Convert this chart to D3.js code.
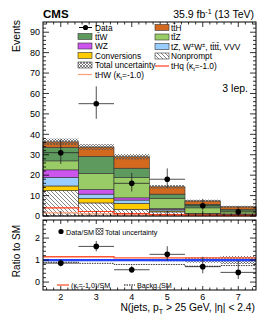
<!DOCTYPE html>
<html><head><meta charset="utf-8">
<script src="https://cdn.jsdelivr.net/npm/d3@7"></script>
<style>body{margin:0;background:#fff}svg{display:block;font-family:"Liberation Sans",Arial,sans-serif}</style>
</head><body><svg id="c" width="266" height="322"></svg>
<script>
// ---------- data ----------
const binCenters = [2, 3, 4, 5, 6, 7];
const nonprompt   = [12.4, 6.4, 3.3, 2.0, 0.8, 0.6];
const conversions = [2.3, 2.2, 2.9, 0.5, 0.2, 0.1];
const tzVVV       = [4.2, 2.1, 1.6, 0.7, 0.2, 0.2];
const wz          = [3.7, 2.3, 1.1, 0.4, 0.1, 0.1];
const ttz         = [4.4, 7.9, 9.9, 5.0, 2.7, 1.5];
const ttw         = [6.6, 8.3, 4.6, 2.1, 1.7, 0.8];
const tth         = [2.7, 4.6, 5.6, 3.6, 1.7, 1.2];
const totalUnc    = [1.6, 1.4, 1.3, 0.9, 0.6, 0.5];
const tHq         = [4.0, 2.2, 1.2, 0.7, 0.4, 0.3];
const tHW         = [1.5, 1.0, 0.6, 0.3, 0.2, 0.1];
const data        = [31, 55, 16, 18, 5, 2];
const dataErrUp   = [6.6, 8.5, 5.1, 5.3, 3.4, 2.6];
const dataErrDn   = [5.5, 7.4, 4.0, 4.2, 2.2, 1.3];
const ratioData   = [0.86, 1.62, 0.56, 1.26, 0.70, 0.44];
const ratioErrUp  = [0.18, 0.25, 0.18, 0.37, 0.45, 0.55];
const ratioErrDn  = [0.15, 0.22, 0.14, 0.29, 0.30, 0.30];
const ratioUnc    = [0.05, 0.05, 0.05, 0.06, 0.12, 0.18];
const ratioSignal = [1.15, 1.15, 1.10, 1.10, 1.10, 1.10];
const ratioBackg  = [0.90, 0.85, 0.80, 0.80, 0.72, 0.75];
const yTicksMain  = [0, 10, 20, 30, 40, 50, 60, 70, 80, 90];
const yTicksRatio = [0, 1, 2];
const xTicks      = [2, 3, 4, 5, 6, 7];

const stackOrder = [
  {key:"nonprompt", vals:nonprompt, fill:"url(#hatchNP)"},
  {key:"conv", vals:conversions, fill:"#ffcc00"},
  {key:"tz", vals:tzVVV, fill:"#99ccff"},
  {key:"wz", vals:wz, fill:"#cc55ee"},
  {key:"ttz", vals:ttz, fill:"#99cc66"},
  {key:"ttw", vals:ttw, fill:"#5e9a5e"},
  {key:"tth", vals:tth, fill:"#d2691e"}
];

// ---------- setup ----------
const svg = d3.select("#c");
const defs = svg.append("defs");
const np = defs.append("pattern").attr("id","hatchNP").attr("patternUnits","userSpaceOnUse").attr("width",4).attr("height",4);
np.append("rect").attr("width",4).attr("height",4).attr("fill","#fff");
np.append("path").attr("d","M-1,-1 L5,5 M-1,3 L1,5 M3,-1 L5,1").attr("stroke","#666").attr("stroke-width",0.8);
const unc = defs.append("pattern").attr("id","hatchUnc").attr("patternUnits","userSpaceOnUse").attr("width",3).attr("height",3);
unc.append("path").attr("d","M0,0 L3,3 M3,0 L0,3").attr("stroke","#555").attr("stroke-width",0.7);

const L = 43, R = 256;
const x = d3.scaleLinear().domain([1.5, 7.5]).range([L, R]);
const y = d3.scaleLinear().domain([0, 95]).range([216, 22]);
const yr = d3.scaleLinear().domain([-0.36, 2.82]).range([290, 220]);

// stack
const stackData = binCenters.map((c,i)=>{const o={c}; stackOrder.forEach(s=>o[s.key]=s.vals[i]); return o;});
const series = d3.stack().keys(stackOrder.map(s=>s.key))(stackData);
const gMain = svg.append("g");
series.forEach((s,si)=>{
  gMain.append("g").selectAll("rect").data(s).join("rect")
    .attr("x", d=>x(d.data.c-0.5)).attr("width", d=>x(d.data.c+0.5)-x(d.data.c-0.5))
    .attr("y", d=>y(d[1])).attr("height", d=>y(d[0])-y(d[1]))
    .attr("fill", stackOrder[si].fill).attr("stroke","#333").attr("stroke-width",0.6);
});
const totals = binCenters.map((c,i)=>stackOrder.reduce((a,s)=>a+s.vals[i],0));
// uncertainty band
gMain.append("g").selectAll("rect").data(binCenters).join("rect")
  .attr("x", (c)=>x(c-0.5)).attr("width", c=>x(c+0.5)-x(c-0.5))
  .attr("y", (c,i)=>y(totals[i]+totalUnc[i])).attr("height",(c,i)=>y(totals[i]-totalUnc[i])-y(totals[i]+totalUnc[i]))
  .attr("fill","url(#hatchUnc)");
// signal lines
function stepLine(vals, sc){
  const pts=[]; binCenters.forEach((c,i)=>{pts.push([x(c-0.5),sc(vals[i])]);pts.push([x(c+0.5),sc(vals[i])]);});
  return d3.line()(pts);
}
gMain.append("path").attr("d",stepLine(tHW,y)).attr("fill","none").attr("stroke","#ffa07a").attr("stroke-width",1.2);
gMain.append("path").attr("d",stepLine(tHq,y)).attr("fill","none").attr("stroke","#ff3d1f").attr("stroke-width",1.2);
// data
function drawData(g, sc, vals, up, dn){
  const gg = g.append("g");
  binCenters.forEach((c,i)=>{
    gg.append("line").attr("x1",x(c-0.5)).attr("x2",x(c+0.5)).attr("y1",sc(vals[i])).attr("y2",sc(vals[i])).attr("stroke","#222").attr("stroke-width",0.8);
    gg.append("line").attr("x1",x(c)).attr("x2",x(c)).attr("y1",sc(vals[i]+up[i])).attr("y2",sc(vals[i]-dn[i])).attr("stroke","#222").attr("stroke-width",0.8);
    gg.append("circle").attr("cx",x(c)).attr("cy",sc(vals[i])).attr("r",2.8).attr("fill","#000");
  });
}
drawData(gMain, y, data, dataErrUp, dataErrDn);

// ---------- ratio panel ----------
const gR = svg.append("g");
gR.append("g").selectAll("rect").data(binCenters).join("rect")
  .attr("x", c=>x(c-0.5)).attr("width", c=>x(c+0.5)-x(c-0.5))
  .attr("y",(c,i)=>yr(1+ratioUnc[i])).attr("height",(c,i)=>yr(1-ratioUnc[i])-yr(1+ratioUnc[i]))
  .attr("fill","url(#hatchUnc)");
gR.append("path").attr("d",stepLine(ratioBackg,yr)).attr("fill","none").attr("stroke","#000").attr("stroke-width",0.8).attr("stroke-dasharray","1.5,1");
gR.append("line").attr("x1",L).attr("x2",R).attr("y1",yr(1)).attr("y2",yr(1)).attr("stroke","#2244ff").attr("stroke-width",2.2);
gR.append("path").attr("d",stepLine(ratioSignal,yr)).attr("fill","none").attr("stroke","#ff5533").attr("stroke-width",1.3);
drawData(gR, yr, ratioData, ratioErrUp, ratioErrDn);

// ---------- frames & axes ----------
function frame(top, bottom, sc, majors, minorStep, lo, hi){
  const g = svg.append("g");
  g.append("rect").attr("x",L).attr("y",top).attr("width",R-L).attr("height",bottom-top).attr("fill","none").attr("stroke","#000").attr("stroke-width",1);
  const minors = d3.range(Math.ceil(lo/minorStep)*minorStep, hi+1e-9, minorStep);
  minors.forEach(v=>{
    const isMaj = majors.some(m=>Math.abs(m-v)<1e-6);
    const len = isMaj?6:3;
    g.append("line").attr("x1",L).attr("x2",L+len).attr("y1",sc(v)).attr("y2",sc(v)).attr("stroke","#000").attr("stroke-width",0.8);
    g.append("line").attr("x1",R).attr("x2",R-len).attr("y1",sc(v)).attr("y2",sc(v)).attr("stroke","#000").attr("stroke-width",0.8);
  });
  d3.range(1.6, 7.5, 0.2).forEach(v=>{
    const isMaj = Math.abs(v-Math.round(v))<1e-6;
    const len = isMaj?(bottom-top>100?5:4):2.5;
    g.append("line").attr("x1",x(v)).attr("x2",x(v)).attr("y1",bottom).attr("y2",bottom-len).attr("stroke","#000").attr("stroke-width",0.8);
    g.append("line").attr("x1",x(v)).attr("x2",x(v)).attr("y1",top).attr("y2",top+len).attr("stroke","#000").attr("stroke-width",0.8);
  });
  g.selectAll("text.yl").data(majors).join("text").attr("class","yl")
    .attr("x",L-3).attr("y",d=>sc(d)+3.2).attr("text-anchor","end").attr("font-size",9).text(d=>d);
}
frame(22, 216, y, yTicksMain, 2, 0, 95);
frame(220, 290, yr, yTicksRatio, 0.2, -0.36, 2.82);
svg.append("g").selectAll("text").data(xTicks).join("text")
  .attr("x",d=>x(d)).attr("y",300).attr("text-anchor","middle").attr("font-size",9).text(d=>d);

// ---------- titles ----------
svg.append("text").attr("x",43).attr("y",17.5).attr("font-size",11.5).attr("font-weight","bold").text("CMS");
const lum = svg.append("text").attr("x",254).attr("y",17.5).attr("text-anchor","end").attr("font-size",10.5);
lum.append("tspan").text("35.9 fb");
lum.append("tspan").attr("dy",-4).attr("font-size",7).text("-1");
lum.append("tspan").attr("dy",4).text(" (13 TeV)");
svg.append("text").attr("x",248).attr("y",92).attr("text-anchor","end").attr("font-size",10.5).text("3 lep.");
svg.append("text").attr("transform","translate(20,20) rotate(-90)").attr("text-anchor","end").attr("font-size",10.5).text("Events");
svg.append("text").attr("transform","translate(20,251) rotate(-90)").attr("text-anchor","middle").attr("font-size",10).text("Ratio to SM");
const xt = svg.append("text").attr("x",255).attr("y",311).attr("text-anchor","end").attr("font-size",10.3);
xt.append("tspan").text("N(jets, p");
xt.append("tspan").attr("dy",3).attr("font-size",7).text("T");
xt.append("tspan").attr("dy",-3).text(" > 25 GeV, |η| < 2.4)");

// ---------- legend ----------
const lg = svg.append("g").attr("font-size",8.3);
function lbl(xp, yp, parts, fs){
  const t = lg.append("text").attr("x",xp).attr("y",yp+3);
  if(fs) t.attr("font-size",fs);
  parts.forEach(p=>{
    const s = t.append("tspan").text(p[0]);
    if(p[1]==="sub"){s.attr("dy",2).attr("font-size",fs?fs*0.72:6);}
    if(p[1]==="sup"){s.attr("dy",-3).attr("font-size",6);}
    if(p[1]==="back"){s.attr("dy",p[2]);}
  });
}
function box(x0,yc,fill){lg.append("rect").attr("x",x0).attr("y",yc-3).attr("width",14).attr("height",6).attr("fill",fill).attr("stroke","#333").attr("stroke-width",0.6);}
const c1 = 78, c2 = 155;
lg.append("line").attr("x1",c1+1).attr("x2",c1+14).attr("y1",27.5).attr("y2",27.5).attr("stroke","#000");
lg.append("circle").attr("cx",c1+7.5).attr("cy",27.5).attr("r",2.6);
lbl(c1+17,27.5,[["Data"]]);
box(c1,36.5,"#5e9a5e"); lbl(c1+17,36.5,[["tt̄W"]]);
box(c1,46,"#cc55ee"); lbl(c1+17,46,[["WZ"]]);
box(c1,55.5,"#ffcc00"); lbl(c1+17,55.5,[["Conversions"]]);
box(c1,65,"url(#hatchUnc)"); lbl(c1+17,65,[["Total uncertainty"]]);
lg.append("line").attr("x1",c1).attr("x2",c1+14).attr("y1",74.5).attr("y2",74.5).attr("stroke","#ffa07a").attr("stroke-width",1.2);
lbl(c1+17,74.5,[["tHW (κ"],["t","sub"],["=-1.0)","back",-2]]);
box(c2,27.5,"#d2691e"); lbl(c2+16,27.5,[["tt̄H"]]);
box(c2,37,"#99cc66"); lbl(c2+16,37,[["tt̄Z"]]);
box(c2,46.5,"#99ccff"); lbl(c2+16,46.5,[["tZ, W"],["±","sup"],["W","back",3],["±","sup"],[", tt̄tt̄, VVV","back",3]]);
box(c2,56,"url(#hatchNP)"); lbl(c2+16,56,[["Nonprompt"]]);
lg.append("line").attr("x1",c2).attr("x2",c2+14).attr("y1",66).attr("y2",66).attr("stroke","#ff3d1f").attr("stroke-width",1.2);
lbl(c2+16,66,[["tHq (κ"],["t","sub"],["=-1.0)","back",-2]]);

// ratio legend
const rfs = 7.2;
lg.append("circle").attr("cx",61).attr("cy",231.5).attr("r",2.6);
lbl(66,231.5,[["Data/SM"]],rfs);
lg.append("rect").attr("x",96).attr("y",228.5).attr("width",7).attr("height",6).attr("fill","url(#hatchUnc)").attr("stroke","#333").attr("stroke-width",0.6);
lbl(105,231.5,[["Total uncertainty"]],rfs);
lg.append("line").attr("x1",57).attr("x2",69).attr("y1",285).attr("y2",285).attr("stroke","#ff5533").attr("stroke-width",1.3);
lbl(71,285,[["(κ"],["t","sub"],["=-1.0)/SM","back",-2]],rfs);
lg.append("line").attr("x1",124).attr("x2",135).attr("y1",285).attr("y2",285).attr("stroke","#000").attr("stroke-dasharray","1.5,1");
lbl(137,285,[["Backg./SM"]],rfs);
</script></body></html>
